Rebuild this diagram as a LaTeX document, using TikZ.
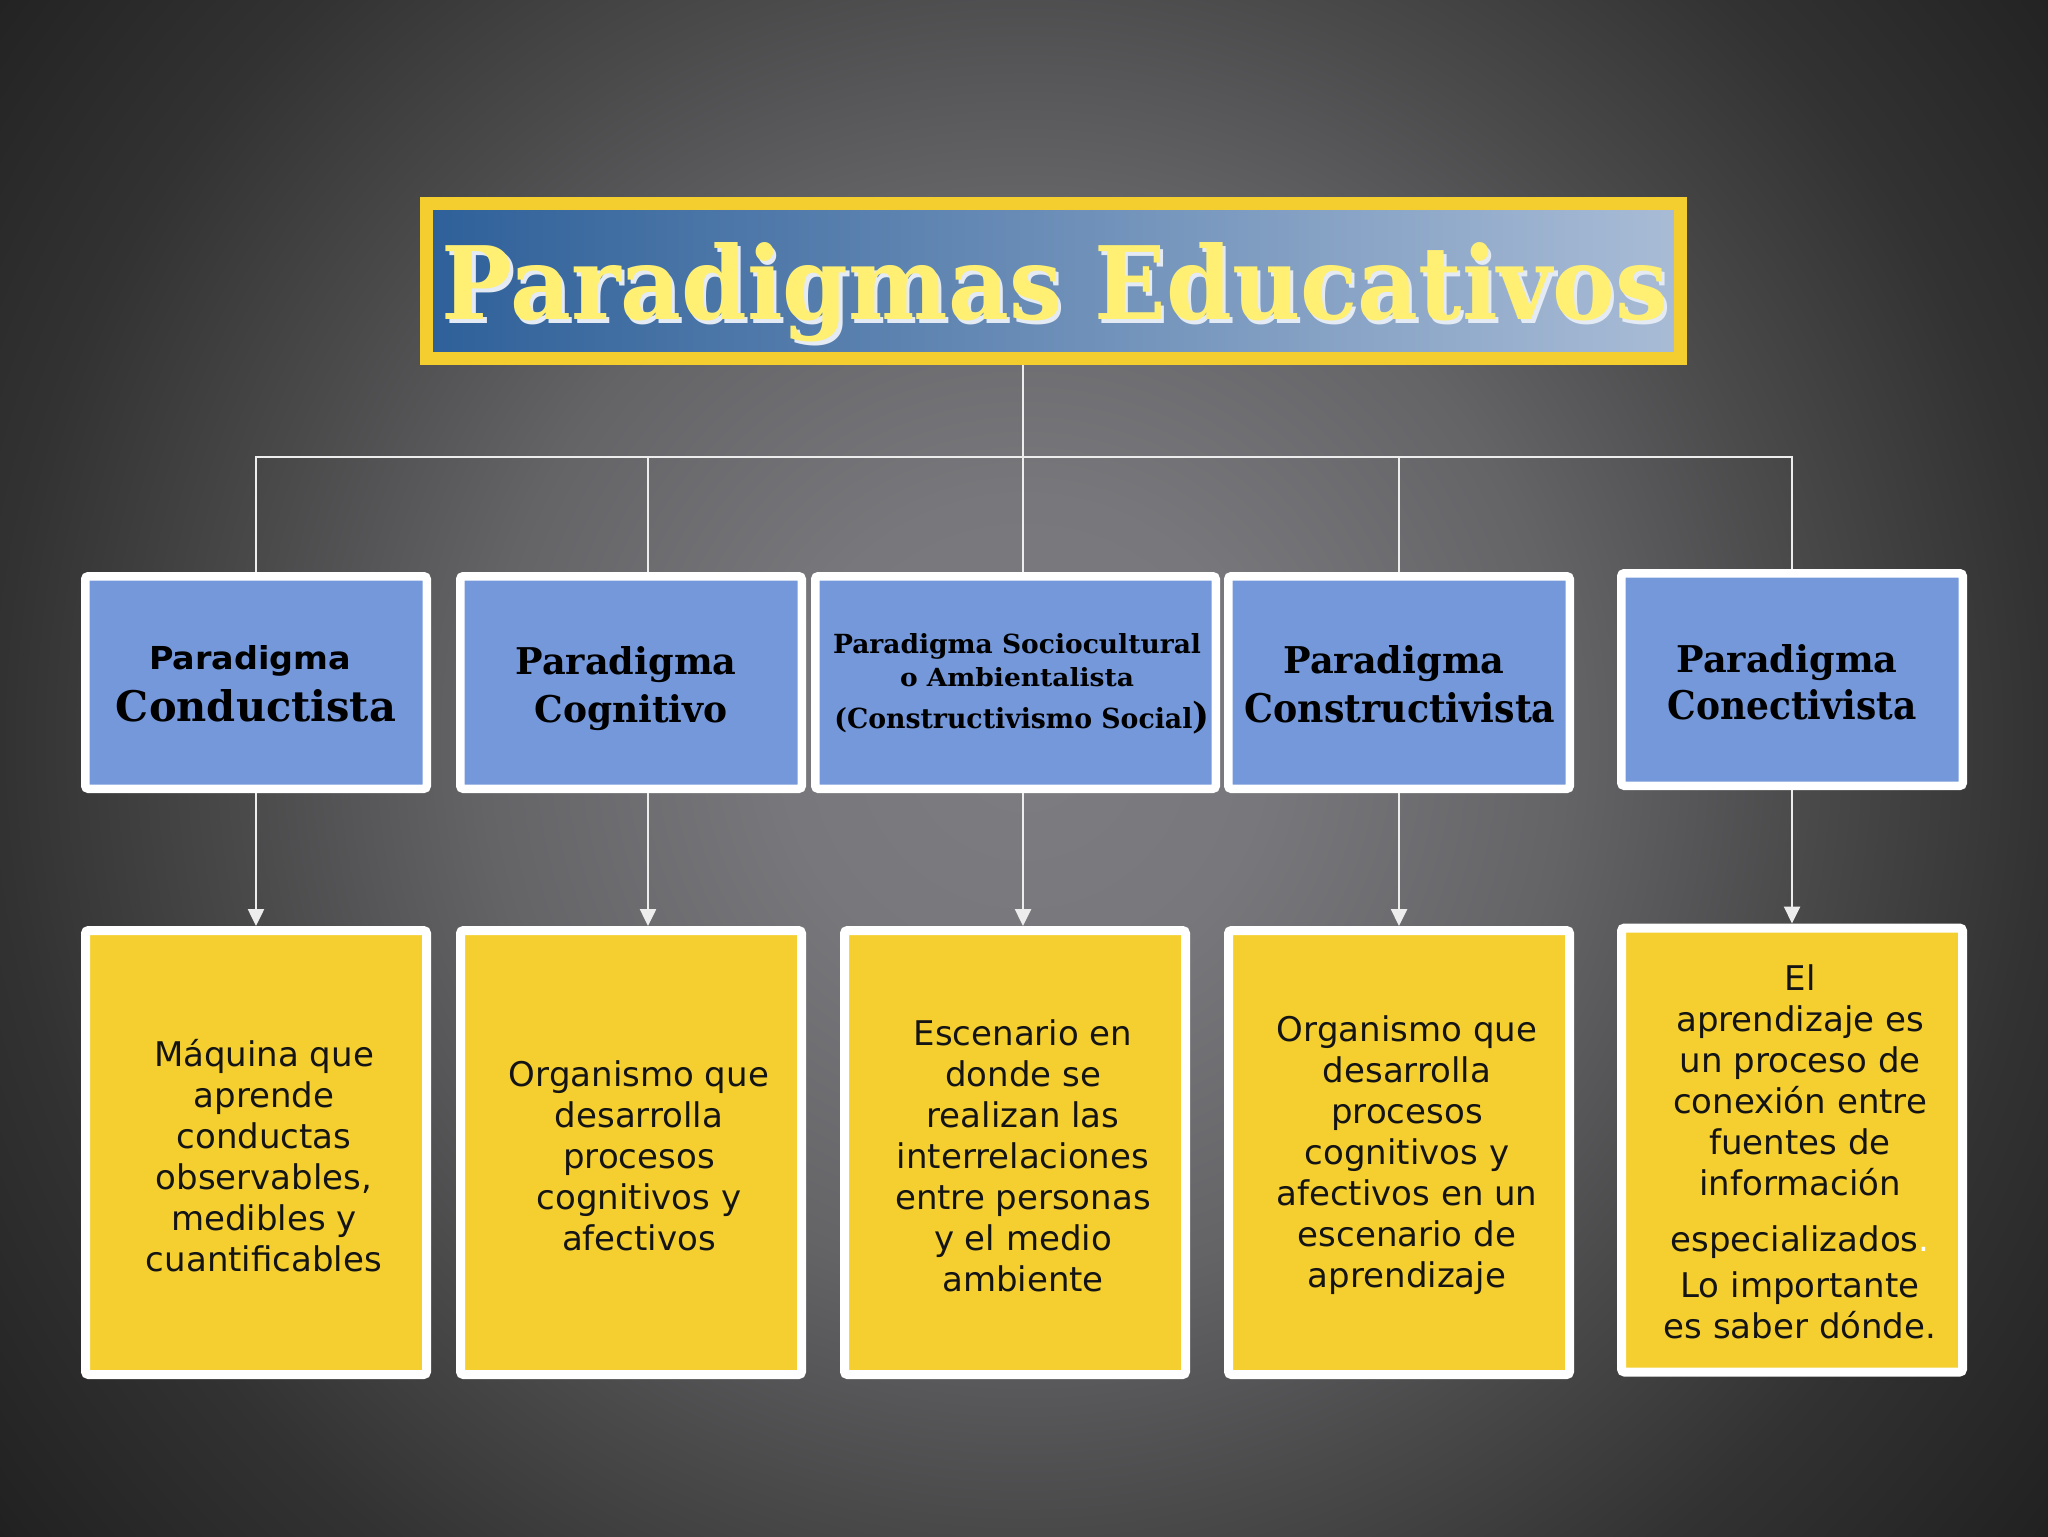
\documentclass[tikz,border=0pt]{standalone}
\usepackage{fontspec}
\usepackage{graphicx}
\usetikzlibrary{arrows.meta,shadows}
\newfontfamily\hsf{DejaVu Serif}
\newfontfamily\ssf{DejaVu Sans}
\definecolor{bgA}{HTML}{7D7C80}
\definecolor{bgB}{HTML}{78777B}
\definecolor{bgC}{HTML}{646366}
\definecolor{bgD}{HTML}{4A4A4B}
\definecolor{bgE}{HTML}{323232}
\definecolor{bgF}{HTML}{222222}
\definecolor{bgG}{HTML}{1A1A1A}
\definecolor{boxblue}{HTML}{7598DA}
\definecolor{boxyellow}{HTML}{F4CF2F}
\definecolor{titleY}{HTML}{F4CE2F}
\definecolor{titleL}{HTML}{2E6099}
\definecolor{titleR}{HTML}{A9BCD6}
\definecolor{titletext}{HTML}{FFEF73}
\definecolor{titleshade}{HTML}{E4EBF4}
\definecolor{lineW}{HTML}{EDEDED}
\pgfdeclareradialshading{bgshade}{\pgfpoint{0bp}{0bp}}{color(0bp)=(bgA); color(120bp)=(bgB); color(270bp)=(bgC); color(390bp)=(bgD); color(510bp)=(bgE); color(637.5bp)=(bgF); color(672bp)=(bgG)}
\newcommand{\titleword}{\resizebox{613pt}{38.5pt}{\hsf\bfseries Paradigmas Educativos}}
\begin{document}
\begin{tikzpicture}[x=0.5pt,y=-0.5pt,
  bluebox/.style={draw=white, line width=4.25pt, fill=boxblue, rounded corners=1.5pt, inner sep=0pt,
    minimum width=170.75pt, minimum height=106.25pt,
    drop shadow={opacity=0.35,shadow xshift=1.5pt,shadow yshift=-2pt}},
  yelbox/.style={draw=white, line width=4.5pt, fill=boxyellow, rounded corners=1.5pt, inner sep=0pt,
    minimum width=170.5pt, minimum height=222pt,
    drop shadow={opacity=0.35,shadow xshift=1.5pt,shadow yshift=-2pt}},
  htext/.style={inner sep=0pt, anchor=base, text=black},
  ytext/.style={inner sep=0pt, align=center, text=black!92, font=\ssf\fontsize{17}{20.5}\selectfont},
  tree/.style={draw=lineW, line width=1pt},
  arr/.style={draw=lineW, line width=1.25pt, -{Triangle[length=8.5pt,width=8pt]}}]

% background
\useasboundingbox (0,0) rectangle (2048,1536);
\begin{scope}
  \clip (0,0) rectangle (2048,1536);
  \node[inner sep=0pt, outer sep=0pt] (bg) at (1024,740) {\pgfuseshading{bgshade}};
\end{scope}

% title
\node[draw=titleY, line width=6.5pt, left color=titleL, right color=titleR, inner sep=0pt,
      minimum width=627pt, minimum height=77.5pt] (title) at (1053.5,281) {};
\node[htext] (titletxt) at (1055,319)
  {\rlap{\hspace{1.6pt}\raisebox{-2pt}{\color{titleshade}\titleword}}{\color{titletext}\titleword}};

% hub coordinates (column positions)
\coordinate (h1) at (256,457);
\coordinate (h2) at (648,457);
\coordinate (h3) at (1023,457);
\coordinate (h4) at (1399,457);
\coordinate (h5) at (1792,457);

% blue boxes
\node[bluebox] (b1) at (256,682.5) {};
\node[bluebox] (b2) at (631,682.5) {};
\node[bluebox, minimum width=200.25pt] (b3) at (1015.5,682.5) {};
\node[bluebox] (b4) at (1399,682.5) {};
\node[bluebox] (b5) at (1792,679.5) {};

% yellow boxes
\node[yelbox] (y1) at (256,1152.5) {};
\node[yelbox] (y2) at (631,1152.5) {};
\node[yelbox] (y3) at (1015,1152.5) {};
\node[yelbox] (y4) at (1399,1152.5) {};
\node[yelbox] (y5) at (1792,1150) {};

% tree connectors
\draw[tree] (title.south -| h3) -- (h3);
\draw[tree] (h1 |- b1.north) -- (h1) -- (h5) -- (h5 |- b5.north);
\draw[tree] (h2) -- (h2 |- b2.north);
\draw[tree] (h3) -- (h3 |- b3.north);
\draw[tree] (h4) -- (h4 |- b4.north);

% arrows
\draw[arr] (b1.south -| h1) -- (y1.north -| h1);
\draw[arr] (b2.south -| h2) -- (y2.north -| h2);
\draw[arr] (b3.south -| h3) -- (y3.north -| h3);
\draw[arr] (b4.south -| h4) -- (y4.north -| h4);
\draw[arr] (b5.south -| h5) -- (y5.north -| h5);

% blue box texts
\node[htext] (t1a) at (250,669) {\resizebox{101pt}{12pt}{\ssf\bfseries Paradigma}};
\node[htext] (t1b) at (256,721) {\resizebox{140pt}{16pt}{\hsf\bfseries Conductista}};
\node[htext] (t2a) at (626,674) {\resizebox{110.5pt}{14pt}{\hsf\bfseries Paradigma}};
\node[htext] (t2b) at (631,722) {\resizebox{96.5pt}{14pt}{\hsf\bfseries Cognitivo}};
\node[htext] (t3a) at (1017,653) {\resizebox{184pt}{10pt}{\hsf\bfseries Paradigma Sociocultural}};
\node[htext] (t3b) at (1017,686) {\resizebox{117pt}{9.5pt}{\hsf\bfseries o Ambientalista}};
\node[htext, anchor=base west] (t3c) at (834,728)
  {\resizebox{179pt}{10.5pt}{\hsf\bfseries (Constructivismo Social}{\hsf\bfseries\fontsize{18}{18}\selectfont)}};
\node[htext] (t4a) at (1394,673) {\resizebox{110.5pt}{14pt}{\hsf\bfseries Paradigma}};
\node[htext] (t4b) at (1400,722) {\resizebox{155.5pt}{15pt}{\hsf\bfseries Constructivista}};
\node[htext] (t5a) at (1787,672) {\resizebox{110.5pt}{14pt}{\hsf\bfseries Paradigma}};
\node[htext] (t5b) at (1792,719) {\resizebox{124.5pt}{15pt}{\hsf\bfseries Conectivista}};

% yellow box texts
\node[ytext] (u1) at (264,1155.5) {Máquina que\\aprende\\conductas\\observables,\\medibles y\\cuantificables};
\node[ytext] (u2) at (639,1155.5) {Organismo que\\desarrolla\\procesos\\cognitivos y\\afectivos};
\node[ytext] (u3) at (1023,1155.5) {Escenario en\\donde se\\realizan las\\interrelaciones\\entre personas\\y el medio\\ambiente};
\node[ytext] (u4) at (1407,1155.5) {Organismo que\\desarrolla\\procesos\\cognitivos y\\afectivos en un\\escenario de\\aprendizaje};
\node[ytext] (u5) at (1800,1152) {El\\aprendizaje es\\un proceso de\\conexión entre\\fuentes de\\información\\[7.5pt]especializados{\color{white}.}\\[2.5pt]Lo importante\\es saber dónde.};
\end{tikzpicture}
\end{document}
